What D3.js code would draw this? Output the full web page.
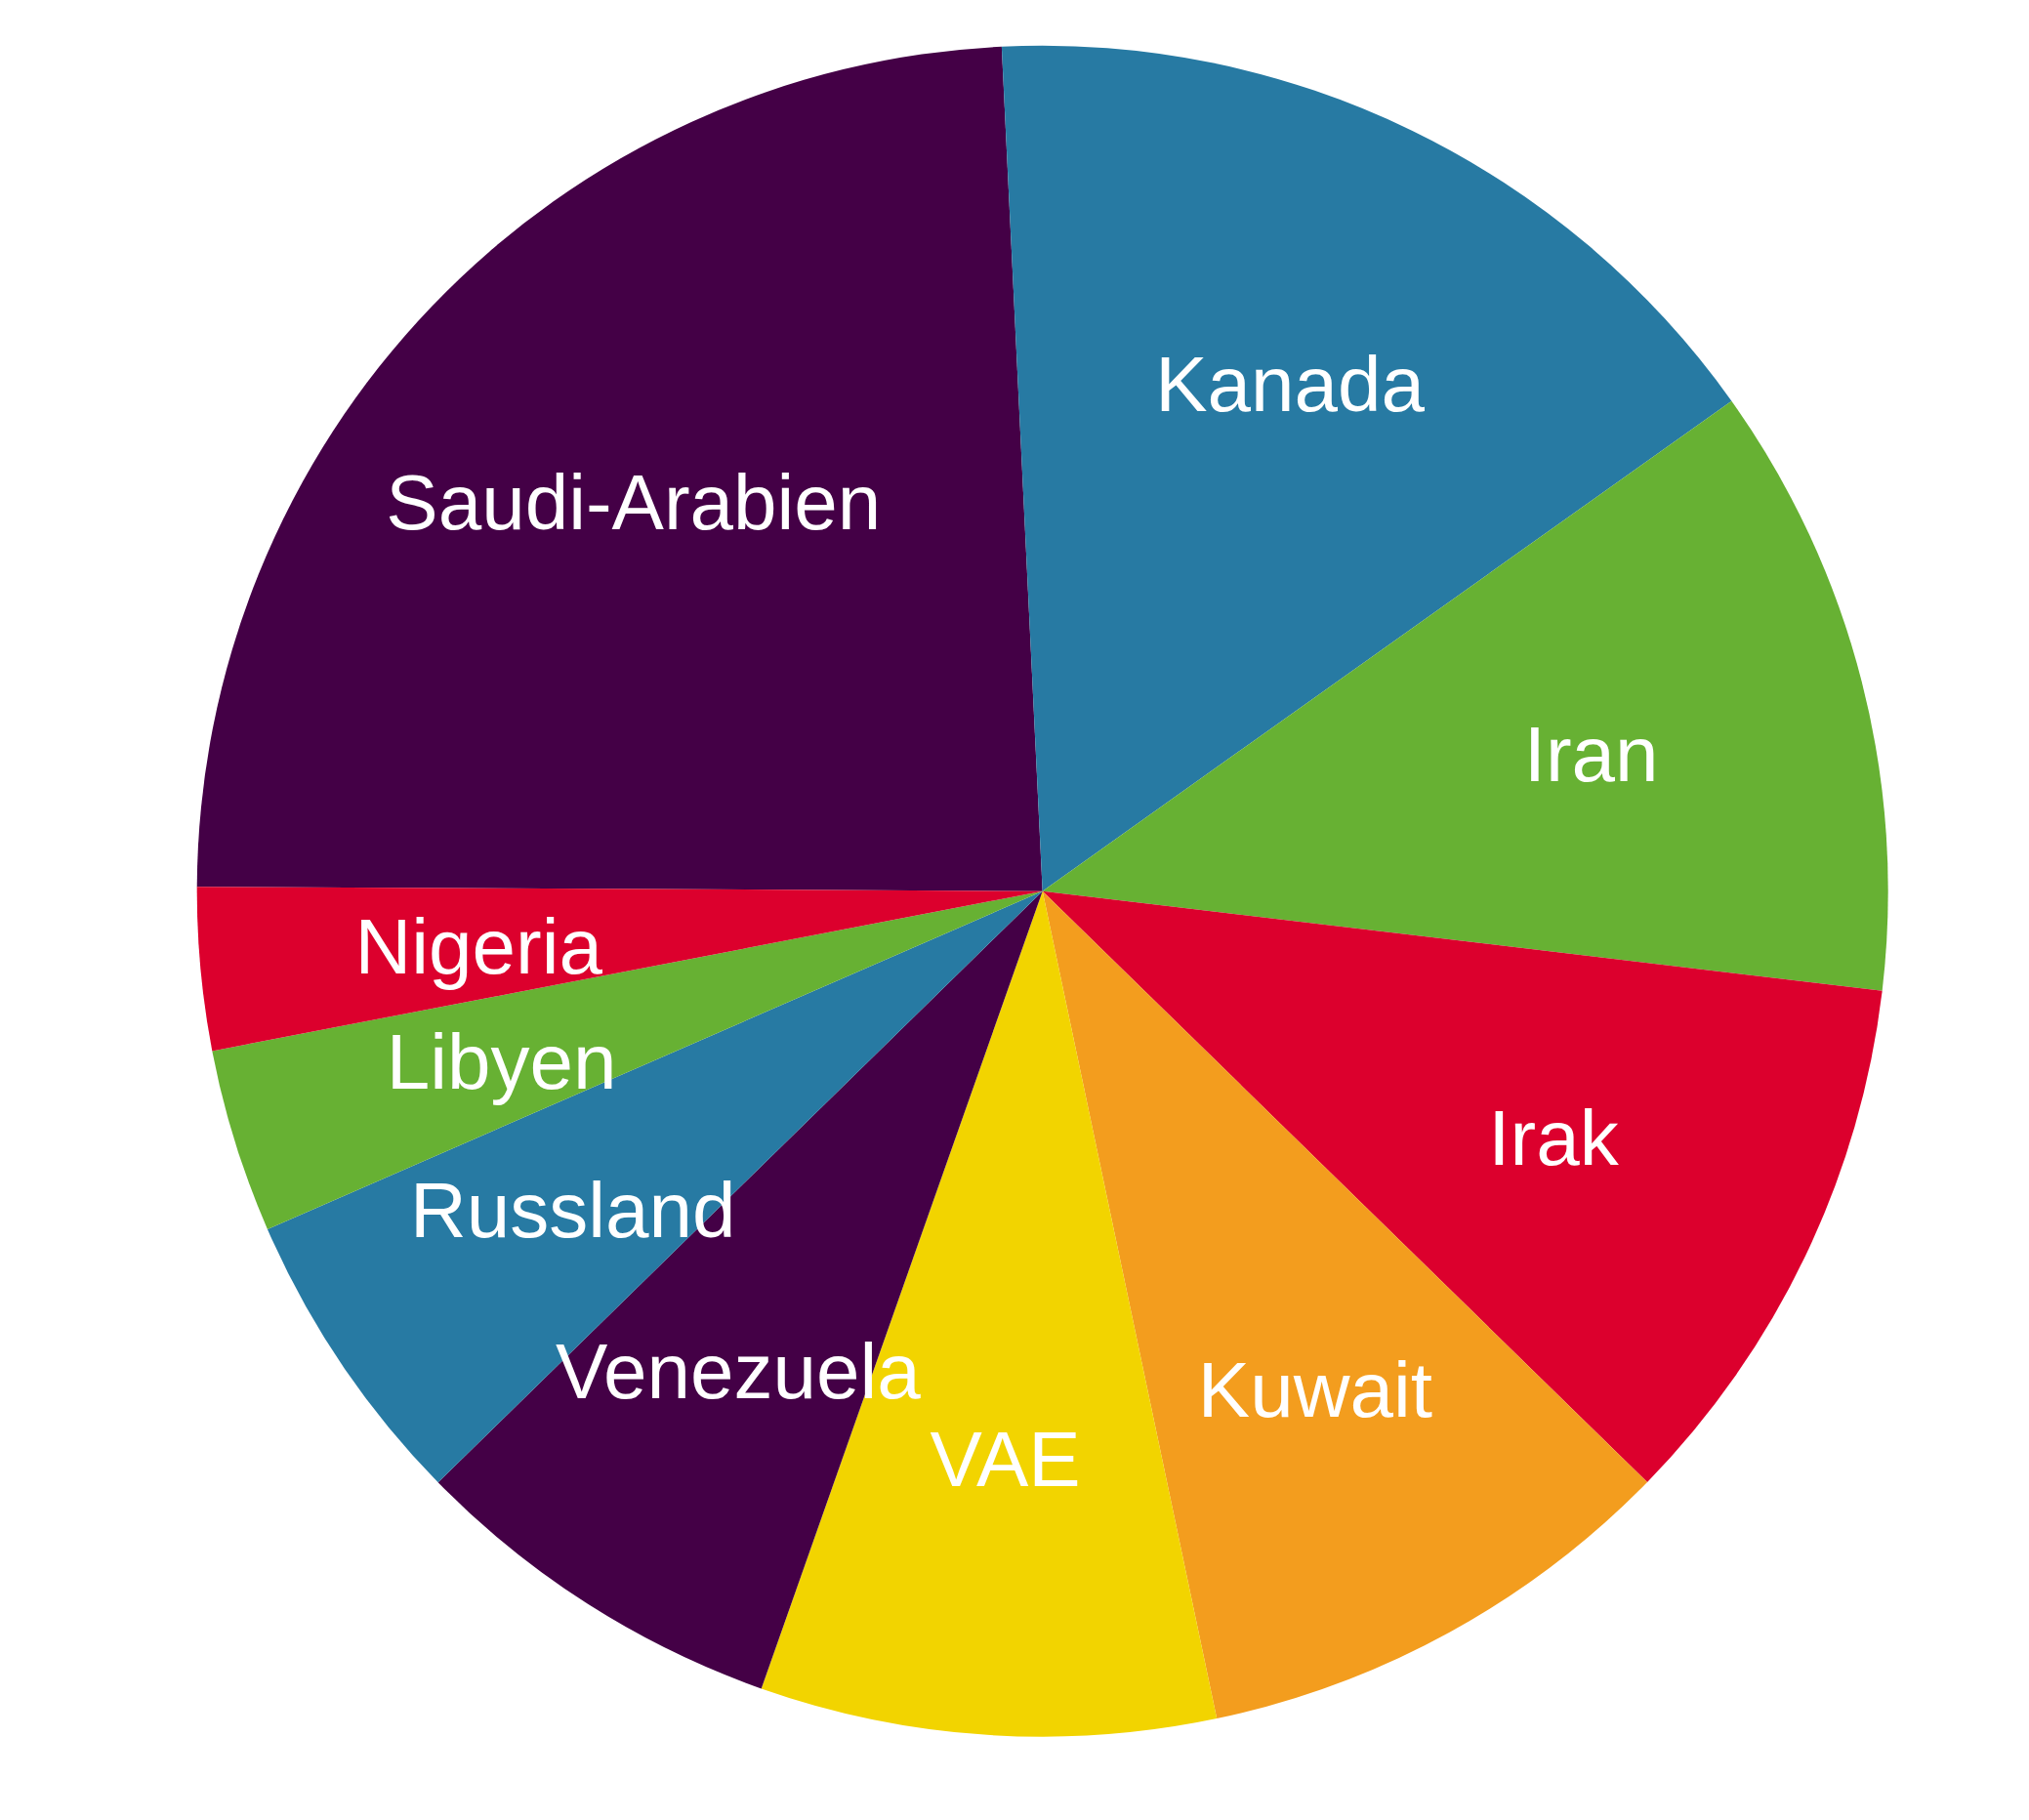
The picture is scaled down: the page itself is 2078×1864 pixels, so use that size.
<!DOCTYPE html>
<html>
<head>
<meta charset="utf-8">
<script src="https://cdn.jsdelivr.net/npm/d3@7"></script>
<style>
  html, body { margin: 0; padding: 0; background: #ffffff; }
  svg { display: block; }
</style>
</head>
<body>
<script>
// Data (share of slice, percent)
const countries = ["Saudi-Arabien", "Kanada", "Iran", "Irak", "Kuwait", "VAE", "Venezuela", "Russland", "Libyen", "Nigeria"];
const shares = [24.15, 15.93, 11.72, 10.44, 9.38, 8.70, 7.28, 5.78, 3.52, 3.11];
const palette = ["#440046", "#277AA3", "#67B133", "#DC002D", "#F39D1E", "#F2D400"];

const W = 2078, H = 1864;
const cx = 1067.7, cy = 912.7, R = 866;
const startDeg = -89.7;

const data = countries.map((c, i) => ({ name: c, value: shares[i] }));

const svg = d3.select("body").append("svg")
  .attr("width", W).attr("height", H);

const g = svg.append("g").attr("transform", `translate(${cx},${cy})`);

const pie = d3.pie()
  .value(d => d.value)
  .sort(null)
  .startAngle(startDeg * Math.PI / 180)
  .endAngle(startDeg * Math.PI / 180 + 2 * Math.PI);

const arcs = pie(data);
const arc = d3.arc().innerRadius(0).outerRadius(R);
const labelArc = d3.arc().innerRadius(580).outerRadius(580);
const color = d3.scaleOrdinal().domain(countries).range(palette);

g.selectAll("path.slice")
  .data(arcs)
  .join("path")
  .attr("class", "slice")
  .attr("d", arc)
  .attr("fill", d => color(d.data.name));

g.selectAll("text.label")
  .data(arcs)
  .join("text")
  .attr("class", "label")
  .attr("transform", d => `translate(${labelArc.centroid(d)})`)
  .attr("text-anchor", "middle")
  .attr("dy", "0.38em")
  .attr("fill", "#ffffff")
  .style("font-family", "'Liberation Sans', Arial, sans-serif")
  .style("font-size", "80px")
  .text(d => d.data.name);
</script>
</body>
</html>
